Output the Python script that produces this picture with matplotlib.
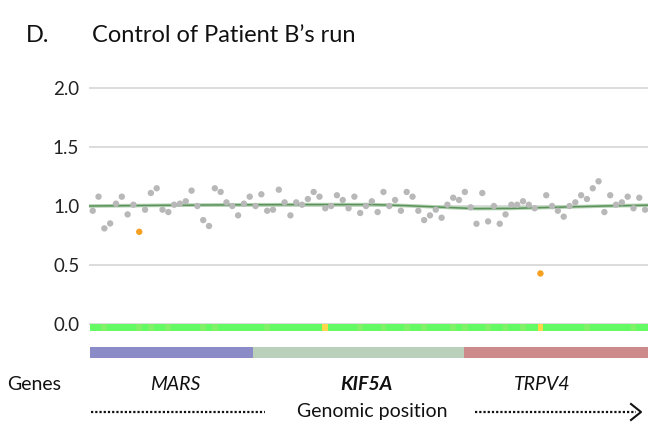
import numpy as np
import matplotlib
matplotlib.use("Agg")
import matplotlib.pyplot as plt
from matplotlib.lines import Line2D

plt.rcParams['font.family'] = ['Lato', 'DejaVu Sans']

# Значения (отношение покрытия) для каждой позиции
ratios = [0.960, 1.079, 0.811, 0.853, 1.020, 1.079, 0.929, 1.011, 0.782, 0.969,
          1.110, 1.150, 0.969, 0.949, 1.011, 1.020, 1.040, 1.130, 1.000, 0.881,
          0.831, 1.150, 1.119, 1.031, 1.000, 0.921, 1.020, 1.079, 1.000, 1.099,
          0.960, 0.969, 1.138, 1.031, 0.921, 1.031, 1.011, 1.059, 1.119, 1.079,
          0.981, 1.000, 1.091, 1.051, 0.981, 1.079, 0.941, 1.000,
          1.040, 0.949, 1.119, 1.000, 1.051, 0.960, 1.119, 1.079, 0.960, 0.881,
          0.921, 0.969, 0.901, 1.011, 1.070, 1.051, 1.119, 0.989, 0.850, 1.110,
          0.870, 1.000, 0.850, 0.929, 1.011, 1.011, 1.040, 1.011, 0.981, 0.430,
          1.091, 1.000, 0.960, 0.910, 1.000, 1.031, 1.091, 1.059, 1.150, 1.209,
          0.949, 1.091, 1.011, 1.031, 1.079, 0.981, 1.070, 0.969]
outliers = [8, 77]

# Сглаженная линия тренда (узлы)
trend_x = [-0.5, 12, 24, 36, 48, 54, 60, 66, 72, 80, 88, 95.5]
trend_y = [1.000, 1.006, 1.010, 1.012, 1.012, 1.003, 0.990, 0.978, 0.980, 0.990, 1.000, 1.007]

# Полоса-тепловая карта: светлые и жёлтые ячейки
heat_light = [2, 8, 10, 13, 19, 21, 30, 46, 50, 54, 57, 62, 64, 68, 71, 74, 85, 93]
heat_yellow = [40, 77]

# Гены
genes = ['MARS', 'KIF5A', 'TRPV4']
gene_start = [-0.5, 27.5, 63.9]
gene_end = [27.5, 63.9, 95.5]
gene_colors = ['#8b8bc8', '#bbd0bb', '#cc8a8a']

yticks = [0.0, 0.5, 1.0, 1.5, 2.0]

fig = plt.figure(figsize=(6.5, 4.23), dpi=100)
W, H = 650, 423
ax = fig.add_axes([89 / W, 1 - 359.8 / H, (648 - 89) / W, (359.8 - 75.9) / H])
ax.set_xlim(-0.64, 95.5)
ax.set_ylim(-0.3, 2.1)

for s in ax.spines.values():
    s.set_visible(False)
ax.set_xticks([])
ax.set_yticks(yticks)
ax.set_yticklabels(['%.1f' % v for v in yticks], fontsize=13.5, color='#222222')
ax.tick_params(axis='y', length=0, pad=7)
for v in yticks:
    ax.axhline(v, color='#d9d9d9', lw=1.3, zorder=0)

x = np.arange(len(ratios))
colors = ['#f5a020' if i in outliers else '#b8b8b8' for i in x]
ax.scatter(x, ratios, s=21, c=colors, linewidths=0, zorder=3)
ax.plot(trend_x, trend_y, color='#b3d1b3', lw=2.6, zorder=2)
ax.plot(trend_x, trend_y, color='#5a925a', lw=1.1, zorder=2)

heat_colors = []
for i in x:
    if i in heat_yellow:
        heat_colors.append('#ffd84a')
    elif i in heat_light:
        heat_colors.append('#80f268')
    else:
        heat_colors.append('#64fa64')
ax.bar(x, 0.057, width=1.0, bottom=-0.057, color=heat_colors, linewidth=0, zorder=4)

for g, a, b, c in zip(genes, gene_start, gene_end, gene_colors):
    ax.bar((a + b) / 2, 0.095, width=b - a, bottom=-0.285, color=c, linewidth=0)

# Подписи
def ftext(px, py, s, **kw):
    fig.text(px / W, 1 - py / H, s, va='center', **kw)

ftext(26, 35, 'D.', fontsize=17, color='#111111')
ftext(92, 35, 'Control of Patient B\u2019s run', fontsize=17, color='#111111')
ftext(7, 384, 'Genes', fontsize=14, color='#111111')
ftext(175, 384, 'MARS', fontsize=14, style='italic', ha='center', color='#111111')
ftext(366, 384, 'KIF5A', fontsize=14, style='italic', weight='bold', ha='center', color='#111111')
ftext(542, 384, 'TRPV4', fontsize=14, style='italic', ha='center', color='#111111')
ftext(372, 411, 'Genomic position', fontsize=14, ha='center', color='#111111')

def fline(xs, ys, **kw):
    fig.add_artist(Line2D([v / W for v in xs], [1 - v / H for v in ys],
                          transform=fig.transFigure, color='#111111', **kw))

fline([91, 265], [412, 412], lw=1.6, linestyle=(0, (1, 0.9)))
fline([475, 636], [412, 412], lw=1.6, linestyle=(0, (1, 0.9)))
fline([631, 641, 631], [404, 412, 420], lw=1.5)

fig.savefig('out.png', dpi=100)
